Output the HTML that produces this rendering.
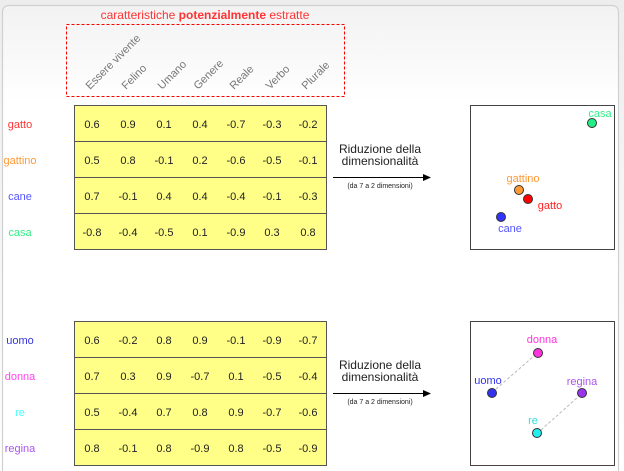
<!DOCTYPE html>
<html><head><meta charset="utf-8"><style>
html,body{margin:0;padding:0;background:#fff;}
svg{display:block;font-family:"Liberation Sans",sans-serif;}
</style></head><body>
<svg width="624" height="471" viewBox="0 0 624 471" xmlns="http://www.w3.org/2000/svg">
<defs>
<linearGradient id="bg" x1="0" y1="0" x2="0" y2="1"><stop offset="0" stop-color="#ededed"/><stop offset="1" stop-color="#ffffff"/></linearGradient>
<linearGradient id="in" x1="0" y1="0" x2="0" y2="1"><stop offset="0" stop-color="#f2f2f2"/><stop offset="0.2" stop-color="#ffffff"/></linearGradient>
</defs>
<rect x="0" y="0" width="624" height="471" fill="url(#bg)"/>
<rect x="2.5" y="5.5" width="616" height="480" rx="6" fill="url(#in)" stroke="#d0d0d0" stroke-width="1.2"/>

<text x="205" y="19" font-size="12" fill="#ff3333" text-anchor="middle">caratteristiche <tspan font-weight="bold">potenzialmente</tspan> estratte</text>
<rect x="66.5" y="24.5" width="278" height="72" fill="none" stroke="#ff0000" stroke-dasharray="3,2"/>
<g font-size="11" fill="#777">
<text transform="translate(90,90) rotate(-45)">Essere vivente</text>
<text transform="translate(126,90) rotate(-45)">Felino</text>
<text transform="translate(162,90) rotate(-45)">Umano</text>
<text transform="translate(198,90) rotate(-45)">Genere</text>
<text transform="translate(234,90) rotate(-45)">Reale</text>
<text transform="translate(270,90) rotate(-45)">Verbo</text>
<text transform="translate(306,90) rotate(-45)">Plurale</text>
</g>

<g stroke="#555" stroke-width="1" fill="#ffff88">
<rect x="74.5" y="105.5" width="252" height="36"/>
<rect x="74.5" y="141.5" width="252" height="36"/>
<rect x="74.5" y="177.5" width="252" height="36"/>
<rect x="74.5" y="213.5" width="252" height="36"/>
<rect x="74.5" y="321.5" width="252" height="36"/>
<rect x="74.5" y="357.5" width="252" height="36"/>
<rect x="74.5" y="393.5" width="252" height="36"/>
<rect x="74.5" y="429.5" width="252" height="36"/>
</g>
<g font-size="11" fill="#222" text-anchor="middle">
<g transform="translate(0,128)"><text x="92">0.6</text><text x="128">0.9</text><text x="164">0.1</text><text x="200">0.4</text><text x="236">-0.7</text><text x="272">-0.3</text><text x="308">-0.2</text></g>
<g transform="translate(0,164)"><text x="92">0.5</text><text x="128">0.8</text><text x="164">-0.1</text><text x="200">0.2</text><text x="236">-0.6</text><text x="272">-0.5</text><text x="308">-0.1</text></g>
<g transform="translate(0,200)"><text x="92">0.7</text><text x="128">-0.1</text><text x="164">0.4</text><text x="200">0.4</text><text x="236">-0.4</text><text x="272">-0.1</text><text x="308">-0.3</text></g>
<g transform="translate(0,236)"><text x="92">-0.8</text><text x="128">-0.4</text><text x="164">-0.5</text><text x="200">0.1</text><text x="236">-0.9</text><text x="272">0.3</text><text x="308">0.8</text></g>
<g transform="translate(0,344)"><text x="92">0.6</text><text x="128">-0.2</text><text x="164">0.8</text><text x="200">0.9</text><text x="236">-0.1</text><text x="272">-0.9</text><text x="308">-0.7</text></g>
<g transform="translate(0,380)"><text x="92">0.7</text><text x="128">0.3</text><text x="164">0.9</text><text x="200">-0.7</text><text x="236">0.1</text><text x="272">-0.5</text><text x="308">-0.4</text></g>
<g transform="translate(0,416)"><text x="92">0.5</text><text x="128">-0.4</text><text x="164">0.7</text><text x="200">0.8</text><text x="236">0.9</text><text x="272">-0.7</text><text x="308">-0.6</text></g>
<g transform="translate(0,452)"><text x="92">0.8</text><text x="128">-0.1</text><text x="164">0.8</text><text x="200">-0.9</text><text x="236">0.8</text><text x="272">-0.5</text><text x="308">-0.9</text></g>
</g>

<g font-size="11" text-anchor="middle">
<text x="20" y="128" fill="#ff3333">gatto</text>
<text x="20" y="164" fill="#ff9933">gattino</text>
<text x="20" y="200" fill="#5555ff">cane</text>
<text x="20" y="236" fill="#33ee88">casa</text>
<text x="20" y="344" fill="#3333dd">uomo</text>
<text x="20" y="380" fill="#ff44ee">donna</text>
<text x="20" y="416" fill="#44ffff">re</text>
<text x="20" y="452" fill="#aa55ee">regina</text>
</g>

<g font-size="12" fill="#222" text-anchor="middle">
<text x="380" y="153">Riduzione della</text>
<text x="380" y="165">dimensionalità</text>
<text x="380" y="188" font-size="7">(da 7 a 2 dimensioni)</text>
<text x="380" y="369">Riduzione della</text>
<text x="380" y="381">dimensionalità</text>
<text x="380" y="404" font-size="7">(da 7 a 2 dimensioni)</text>
</g>
<line x1="333" y1="177.5" x2="425" y2="177.5" stroke="#000"/>
<polygon points="431,177.5 423,174 423,181" fill="#000"/>
<line x1="333" y1="393.5" x2="425" y2="393.5" stroke="#000"/>
<polygon points="431,393.5 423,390 423,397" fill="#000"/>

<rect x="470.5" y="105.5" width="144" height="144" fill="#fff" stroke="#444"/>
<rect x="470.5" y="321.5" width="144" height="144" fill="#fff" stroke="#444"/>
<g stroke="#333" stroke-width="1">
<circle cx="592" cy="123" r="4.5" fill="#22ee88"/>
<circle cx="519" cy="190" r="4.5" fill="#ff9933"/>
<circle cx="528" cy="199" r="4.5" fill="#ff0000"/>
<circle cx="501" cy="217" r="4.5" fill="#3333ff"/>
</g>
<g font-size="11" text-anchor="middle">
<text x="600" y="117" fill="#33ee88">casa</text>
<text x="523" y="182" fill="#ff9933">gattino</text>
<text x="550" y="209" fill="#ff2222">gatto</text>
<text x="510" y="232" fill="#5555ff">cane</text>
</g>
<g stroke="#bbb" stroke-dasharray="3,2"><line x1="496" y1="389" x2="534" y2="356"/><line x1="541" y1="430" x2="578" y2="397"/></g>
<g stroke="#333" stroke-width="1">
<circle cx="538" cy="353" r="4.5" fill="#ff33dd"/>
<circle cx="492" cy="393" r="4.5" fill="#3333ee"/>
<circle cx="582" cy="393" r="4.5" fill="#9933ee"/>
<circle cx="537" cy="433" r="4.5" fill="#22eeee"/>
</g>
<g font-size="11" text-anchor="middle">
<text x="542" y="343" fill="#ff33dd">donna</text>
<text x="488" y="384" fill="#3333ee">uomo</text>
<text x="582" y="385" fill="#aa55ee">regina</text>
<text x="533" y="424" fill="#33dddd">re</text>
</g>
</svg>
</body></html>
